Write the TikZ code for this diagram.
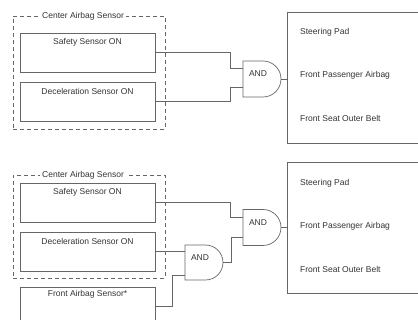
\documentclass[tikz,border=0pt]{standalone}
\usepackage{fontspec}
\setmainfont{Liberation Sans}
\usetikzlibrary{positioning,shapes.misc}

\begin{document}
\begin{tikzpicture}[
    x=1pt, y=-1pt,
    font=\fontsize{8.5}{10}\selectfont,
    % ---- styles -------------------------------------------------
    sensor/.style={
        draw=black!60, line width=0.7pt, text=black!80,
        minimum width=135pt, minimum height=39pt,
        inner sep=0pt},
    group/.style={
        draw=black!60, line width=0.7pt, dash pattern=on 4pt off 3pt,
        minimum width=152pt, inner sep=0pt},
    grouplabel/.style={
        fill=white, text=black!80, inner xsep=2pt, inner ysep=1pt, anchor=west},
    andgate/.style={
        rounded rectangle, rounded rectangle west arc=none,
        draw=black!60, line width=0.7pt, text=black!80,
        minimum width=38pt, minimum height=36pt, inner sep=0pt},
    target/.style={
        draw=black!60, line width=0.8pt,
        minimum width=180pt, minimum height=131pt, inner sep=0pt},
    item/.style={text=black!80, anchor=west, inner sep=0pt},
    wire/.style={draw=black!60, line width=0.7pt},
]
\useasboundingbox (0,0) rectangle (418,320);
\clip (0,0) rectangle (418,320);

% =================== UPPER CASE ===============================
\node[group, minimum height=113pt] (cas1) at (89,72.5) {};
\node[grouplabel] (cas1lbl) at (40,16) {Center Airbag Sensor};

\node[sensor] (safe1) at (87.5,52.5) {};
\node[text=black!80] at ([yshift=-10pt]safe1.north) {Safety Sensor ON};
\node[sensor] (dec1) at (87.5,101.5) {};
\node[text=black!80] at ([yshift=-10pt]dec1.north) {Deceleration Sensor ON};

\node[andgate] (and1) at (262,79) {};
\node[text=black!80] at ([xshift=-4pt,yshift=5pt]and1.center) {AND};

\node[target] (out1) at (377,77.5) {};
\node[item] at (300,32) {Steering Pad};
\node[item] at (300,75) {Front Passenger Airbag};
\node[item] at (300,118) {Front Seat Outer Belt};

\draw[wire] (safe1.east) -- (230,52.5) |- ([yshift=11pt]and1.west);
\draw[wire] (dec1.east) -- (230,101.5) |- ([yshift=-8pt]and1.west);
\draw[wire] (and1.east) -- (out1.west |- and1.east);

% =================== LOWER CASE ===============================
\node[group, minimum height=103pt] (cas2) at (89,226.5) {};
\node[grouplabel] (cas2lbl) at (40,175) {Center Airbag Sensor};

\node[sensor] (safe2) at (87.5,202.5) {};
\node[text=black!80] at ([yshift=-10pt]safe2.north) {Safety Sensor ON};
\node[sensor] (dec2) at (87.5,251.5) {};
\node[text=black!80] at ([yshift=-10pt]dec2.north) {Deceleration Sensor ON};
\node[sensor] (fab) at (87.5,306.5) {};
\node[text=black!80] at ([yshift=-8pt]fab.north) {Front Airbag Sensor*};

\node[andgate] (and2) at (262,227.5) {};
\node[text=black!80] at ([xshift=-4pt,yshift=5pt]and2.center) {AND};
\node[andgate, minimum height=35pt] (and3) at (204,262.5) {};
\node[text=black!80] at ([xshift=-4pt,yshift=5pt]and3.center) {AND};

\node[target] (out2) at (377,227.5) {};
\node[item] at (300,183) {Steering Pad};
\node[item] at (300,226) {Front Passenger Airbag};
\node[item] at (300,269) {Front Seat Outer Belt};

\draw[wire] (safe2.east) -- (230,202.5) |- ([yshift=10pt]and2.west);
\draw[wire] (dec2.east) -- (dec2.east -| and3.west);
\draw[wire] (fab.east) -- (172,306.5) |- ([yshift=-12.5pt]and3.west);
\draw[wire] (and3.east) -- (231,262.5) |- ([yshift=-9.5pt]and2.west);
\draw[wire] (and2.east) -- (out2.west |- and2.east);

\end{tikzpicture}
\end{document}
